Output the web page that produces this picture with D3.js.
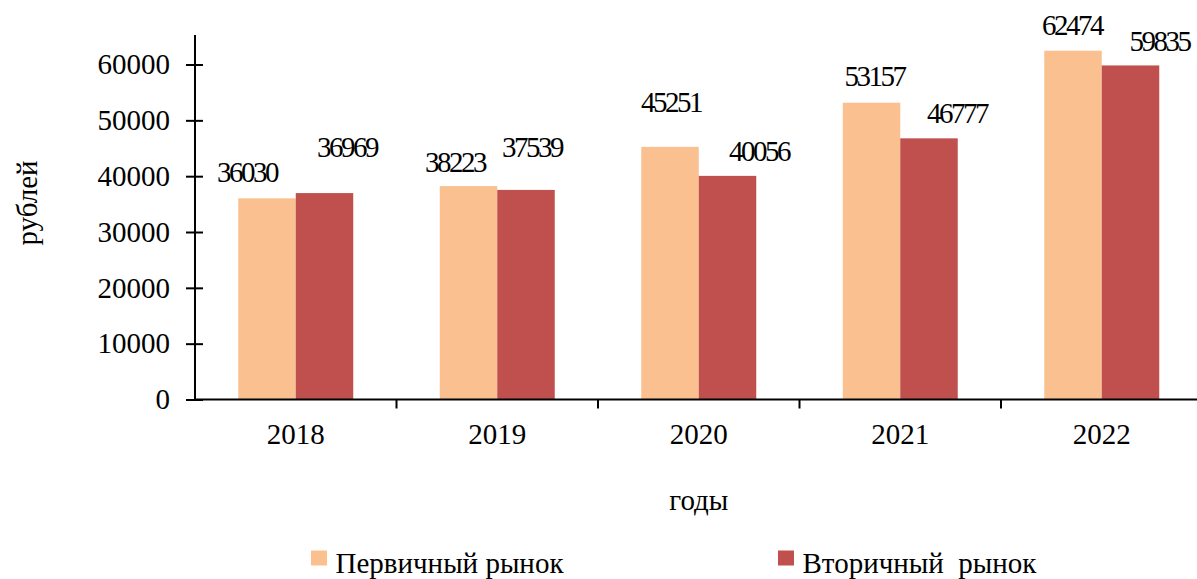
<!DOCTYPE html>
<html>
<head>
<meta charset="utf-8">
<script src="https://cdn.jsdelivr.net/npm/d3@7"></script>
<style>
  html, body { margin: 0; padding: 0; background: #fff; }
  svg { display: block; }
  text { font-family: "Liberation Serif", "Times New Roman", serif; fill: #000; }
</style>
</head>
<body>
<svg id="chart" width="1197" height="579"></svg>
<script>
// ---- data ----
const years = ["2018", "2019", "2020", "2021", "2022"];
const seriesNames = ["Первичный рынок", "Вторичный  рынок"];
const primary = [36030, 38223, 45251, 53157, 62474];
const secondary = [36969, 37539, 40056, 46777, 59835];
const yTicks = [0, 10000, 20000, 30000, 40000, 50000, 60000];
const xTitle = "годы";
const yTitle = "рублей";

// ---- layout (label nudges, px) ----
const labelDx = [[-21, -14.5, 0, 2, -2], [21.5, 5, 30.5, 27, 28]];
const labelDy = [[-16.5, -14.5, -35, -16.5, -15.5], [-36.5, -33, -15, -15.5, -14.5]];
const colors = ["#FAC090", "#C0504D"];
const fontSize = "29px";

const svg = d3.select("#chart");
const plotLeft = 195, plotRight = 1202.5, plotBottom = 399.5, plotTop = 36.6;

const x0 = d3.scaleBand().domain(years).range([plotLeft, plotRight])
  .paddingInner(0.4293).paddingOuter(0.4293 / 2);
const x1 = d3.scaleBand().domain([0, 1]).range([0, x0.bandwidth()]);
const y = d3.scaleLinear().domain([0, 65000]).range([plotBottom, plotTop]);

const values = [primary, secondary];

// bars
values.forEach((vals, s) => {
  svg.append("g").selectAll("rect").data(vals).join("rect")
    .attr("x", (d, i) => x0(years[i]) + x1(s))
    .attr("y", d => y(d))
    .attr("width", x1.bandwidth())
    .attr("height", d => y(0) - y(d))
    .attr("fill", colors[s]);
});

// data labels
values.forEach((vals, s) => {
  svg.append("g").selectAll("text").data(vals).join("text")
    .attr("x", (d, i) => x0(years[i]) + x1(s) + x1.bandwidth() / 2 + labelDx[s][i] + 1)
    .attr("y", (d, i) => y(d) + labelDy[s][i])
    .attr("text-anchor", "middle")
    .style("font-size", fontSize)
    .style("letter-spacing", "-2.5px")
    .text(d => d);
});

// y axis
const yAxis = svg.append("g").attr("transform", `translate(${plotLeft},0)`)
  .call(d3.axisLeft(y).tickValues(yTicks).tickSize(9).tickSizeOuter(0).tickPadding(16).tickFormat(d3.format("d")));
yAxis.select(".domain").attr("stroke", "#000").attr("stroke-width", 2)
  .attr("d", `M0,${plotBottom}V35`);
yAxis.selectAll(".tick line").attr("x1", 8).attr("stroke", "#000").attr("stroke-width", 2);
yAxis.selectAll(".tick text").style("font-size", fontSize).attr("font-family", null);

// x axis
const xAxis = svg.append("g").attr("transform", `translate(0,${plotBottom})`)
  .call(d3.axisBottom(x0).tickSize(0).tickPadding(24));
xAxis.select(".domain").attr("stroke", "#000").attr("stroke-width", 2)
  .attr("d", `M${plotLeft},0H1197`);
xAxis.selectAll(".tick text").style("font-size", fontSize).attr("font-family", null);
// boundary tick marks between categories
const step = x0.step();
svg.append("g").selectAll("line").data(years.slice(1)).join("line")
  .attr("x1", (d, i) => plotLeft + step * (i + 1))
  .attr("x2", (d, i) => plotLeft + step * (i + 1))
  .attr("y1", plotBottom).attr("y2", plotBottom + 9)
  .attr("stroke", "#000").attr("stroke-width", 2);

// titles
svg.append("text").attr("x", (plotLeft + plotRight) / 2).attr("y", 510)
  .attr("text-anchor", "middle").style("font-size", fontSize).text(xTitle);
svg.append("text").attr("transform", "translate(37,203) rotate(-90)")
  .attr("text-anchor", "middle").style("font-size", fontSize).text(yTitle);

// legend
const legendX = [311, 778];
seriesNames.forEach((name, s) => {
  svg.append("rect").attr("x", legendX[s]).attr("y", 550.5)
    .attr("width", 16).attr("height", 15).attr("fill", colors[s]);
  svg.append("text").attr("x", legendX[s] + 24.5).attr("y", 573)
    .style("font-size", fontSize).style("white-space", "pre")
    .attr("xml:space", "preserve").text(name);
});
</script>
</body>
</html>
